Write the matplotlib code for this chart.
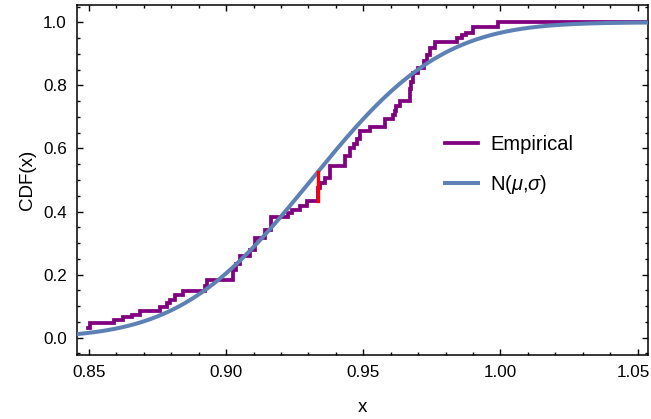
import math
import numpy as np
import matplotlib
matplotlib.use("Agg")
import matplotlib.pyplot as plt
import matplotlib.transforms as mtransforms
from matplotlib.ticker import MultipleLocator

plt.rcParams['font.family'] = ['Liberation Sans', 'DejaVu Sans']
plt.rcParams['mathtext.fontset'] = 'custom'
plt.rcParams['mathtext.rm'] = 'Liberation Sans'
plt.rcParams['mathtext.it'] = 'Liberation Sans:italic'

# empirical CDF: step positions and level after each step
ecdf_x = [0.8497, 0.8504, 0.8590, 0.8625, 0.8656, 0.8686, 0.8759, 0.8783, 0.8795,
          0.8813, 0.8844, 0.8923, 0.8930, 0.9026, 0.9035, 0.9050, 0.9087, 0.9105,
          0.9141, 0.9162, 0.9226, 0.9239, 0.9269, 0.9293, 0.9333, 0.9342, 0.9360,
          0.9378, 0.9433, 0.9450, 0.9465, 0.9476, 0.9488, 0.9524, 0.9579, 0.9609,
          0.9615, 0.9621, 0.9633, 0.9670, 0.9672, 0.9675, 0.9680, 0.9700, 0.9722,
          0.9731, 0.9743, 0.9761, 0.9840, 0.9860, 0.9876, 0.9900, 0.9992]
ecdf_y = [0.032, 0.048, 0.056, 0.064, 0.071, 0.084, 0.097, 0.110, 0.120,
          0.134, 0.147, 0.165, 0.182, 0.216, 0.235, 0.258, 0.279, 0.316,
          0.343, 0.382, 0.396, 0.406, 0.417, 0.433, 0.474, 0.491, 0.507,
          0.544, 0.576, 0.600, 0.615, 0.629, 0.655, 0.668, 0.692, 0.705,
          0.720, 0.734, 0.750, 0.766, 0.790, 0.810, 0.840, 0.856, 0.877,
          0.898, 0.920, 0.938, 0.951, 0.959, 0.967, 0.984, 1.000]

# fitted normal
mu = 0.931
sigma = 0.0375

# location of the largest gap (KS statistic)
ks_x = 0.9333

xlim = (0.8455, 1.0538)
ylim = (-0.055, 1.055)


def norm_cdf(x):
    return 0.5 * (1 + math.erf((x - mu) / (sigma * math.sqrt(2))))


fig = plt.figure(figsize=(6.51, 4.19), dpi=100)
ax = fig.add_axes([0.1178, 0.1527, 0.8776, 0.8353])

# empirical step curve, extended to the right edge
sx = ecdf_x + [xlim[1]]
sy = ecdf_y + [ecdf_y[-1]]
ax.step(sx, sy, where='post', color='#800080', lw=2.7, label='Empirical',
        solid_joinstyle='miter', zorder=2)

xs = np.linspace(xlim[0], xlim[1], 400)
ax.plot(xs, [norm_cdf(v) for v in xs], color='#5E81B5', lw=2.9,
        label=r'N($\mu$,$\sigma$)', zorder=3)

i = ecdf_x.index(ks_x)
ax.plot([ks_x, ks_x], [ecdf_y[i - 1], norm_cdf(ks_x)], color='#FF0000', lw=2.4,
        zorder=4)

ax.set_xlim(*xlim)
ax.set_ylim(*ylim)
ax.xaxis.set_major_locator(MultipleLocator(0.05))
ax.xaxis.set_minor_locator(MultipleLocator(0.01))
ax.yaxis.set_major_locator(MultipleLocator(0.2))
ax.yaxis.set_minor_locator(MultipleLocator(0.05))
ax.xaxis.set_major_formatter(plt.FuncFormatter(lambda v, p: f'{v:.2f}'))
ax.yaxis.set_major_formatter(plt.FuncFormatter(lambda v, p: f'{v:.1f}'))

ax.tick_params(which='both', direction='in', top=True, right=True,
               labelsize=12.3, width=1.0, color='black')
ax.tick_params(which='major', length=4.5, pad=7)
ax.tick_params(which='minor', length=2.2)
for s in ax.spines.values():
    s.set_linewidth(1.1)

ax.set_xlabel('x', fontsize=13.5, labelpad=14)
ax.set_ylabel('CDF(x)', fontsize=13.5, labelpad=5)

fig.legend(loc='center left', bbox_to_anchor=(0.6836, 0.604), frameon=False,
           fontsize=14.5, handlelength=1.65, handletextpad=0.6,
           labelspacing=0.95, borderpad=0, borderaxespad=0)

# nudge the last x label a little so it stays inside the picture
fig.canvas.draw()
shift = mtransforms.ScaledTranslation(-4 / 100, 0, fig.dpi_scale_trans)
for tick in ax.xaxis.get_major_ticks():
    if abs(tick.get_loc() - 1.05) < 1e-6:
        tick.label1.set_transform(tick.label1.get_transform() + shift)

fig.savefig('out.png', dpi=100)
